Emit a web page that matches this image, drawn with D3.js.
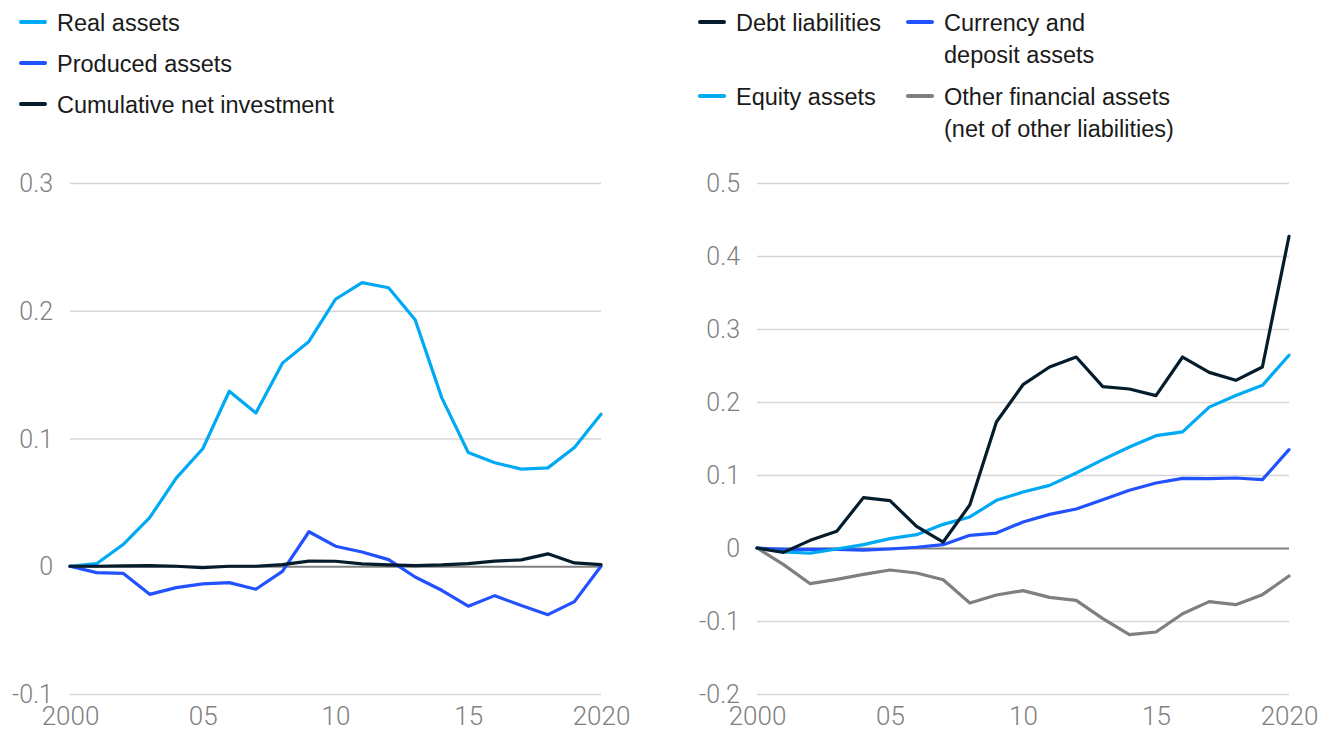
<!DOCTYPE html>
<html>
<head>
<meta charset="utf-8">
<script src="https://cdn.jsdelivr.net/npm/d3@7"></script>
<style>
  html, body { margin: 0; padding: 0; background: #ffffff; }
  svg { display: block; }
  .tick text { font-family: Roboto, "Liberation Sans", sans-serif; font-weight: 300; fill: #808080; }
  .legend text { font-family: "Liberation Sans", Arial, sans-serif; font-size: 23.5px; fill: #1a1a1a; }
</style>
</head>
<body>
<svg id="chart" width="1319" height="731"></svg>
<script>
// ---------- DATA ----------
const years = [2000,2001,2002,2003,2004,2005,2006,2007,2008,2009,2010,2011,2012,2013,2014,2015,2016,2017,2018,2019,2020];

// Left panel
const realAssets = [0,0.002,0.017,0.038,0.069,0.092,0.137,0.120,0.159,0.176,0.209,0.222,0.218,0.193,0.132,0.089,0.081,0.076,0.077,0.093,0.119];
const producedAssets = [0,-0.005,-0.0055,-0.022,-0.0167,-0.0138,-0.0128,-0.018,-0.004,0.027,0.0157,0.0112,0.0052,-0.0084,-0.0188,-0.0313,-0.023,-0.0308,-0.0379,-0.0277,0];
const cumulativeNetInvestment = [0,0,0.0003,0.0005,0,-0.001,0,0,0.0013,0.004,0.0039,0.0018,0.001,0.0005,0.001,0.002,0.004,0.005,0.0097,0.0026,0.0013];

// Right panel
const debtLiabilities = [0,-0.006,0.0105,0.0228,0.069,0.0648,0.0297,0.0082,0.059,0.1726,0.2237,0.248,0.2616,0.221,0.2178,0.2087,0.2616,0.2406,0.2297,0.248,0.427];
const equityAssets = [0,-0.0055,-0.007,-0.0014,0.0046,0.0128,0.0183,0.0324,0.0425,0.0653,0.0767,0.0858,0.1027,0.121,0.1384,0.1539,0.159,0.193,0.209,0.2228,0.264];
const currencyDepositAssets = [0,-0.002,-0.002,-0.002,-0.003,-0.0014,0.001,0.0046,0.0174,0.0205,0.0356,0.0461,0.0534,0.0662,0.079,0.089,0.0954,0.095,0.0959,0.0936,0.1347];
const otherFinancialAssets = [0,-0.0228,-0.0489,-0.0429,-0.0361,-0.0301,-0.0342,-0.0434,-0.0753,-0.0644,-0.0584,-0.0676,-0.0717,-0.0968,-0.1187,-0.1151,-0.09,-0.0735,-0.0776,-0.0639,-0.0384];

// Tick labels
const xTickValues = [2000,2005,2010,2015,2020];
const xTickLabels = ["2000","05","10","15","2020"];
const leftYTicks = [-0.1,0,0.1,0.2,0.3];
const leftYLabels = ["-0.1","0","0.1","0.2","0.3"];
const rightYTicks = [-0.2,-0.1,0,0.1,0.2,0.3,0.4,0.5];
const rightYLabels = ["-0.2","-0.1","0","0.1","0.2","0.3","0.4","0.5"];

// Legend labels
const leftLegend = ["Real assets","Produced assets","Cumulative net investment"];
const rightLegend = [["Debt liabilities"],["Currency and","deposit assets"],["Equity assets"],["Other financial assets","(net of other liabilities)"]];

// ---------- STYLE ----------
const C_LIGHT = "#00A9F4", C_BLUE = "#2251FF", C_DARK = "#051C2C", C_GREY = "#7F7F7F";

const svg = d3.select("#chart");

function panel(cfg) {
  const x = d3.scaleLinear().domain([2000, 2020]).range([cfg.x0, cfg.x1]);
  const y = d3.scaleLinear().domain(cfg.yDomain).range([cfg.yBottom, cfg.yTop]);
  const g = svg.append("g");

  // y gridlines + labels
  const yAxis = d3.axisLeft(y)
    .tickValues(cfg.yTicks)
    .tickFormat((d, i) => cfg.yLabels[i])
    .tickSize(-(cfg.x1 - cfg.x0))
    .tickPadding(17);
  const ya = g.append("g").attr("transform", `translate(${cfg.x0},0)`).call(yAxis);
  ya.select(".domain").remove();
  ya.selectAll(".tick line")
    .attr("stroke", d => d === 0 ? "#808080" : "#d6d6d6")
    .attr("stroke-width", d => d === 0 ? 2 : 1.5);
  ya.selectAll(".tick text").attr("font-size", 25).attr("dy", "0.34em");

  // x labels
  const xAxis = d3.axisBottom(x)
    .tickValues(xTickValues)
    .tickFormat((d, i) => xTickLabels[i])
    .tickSize(0)
    .tickPadding(0);
  const xa = g.append("g").attr("transform", `translate(0,${cfg.yBottom})`).call(xAxis);
  xa.select(".domain").remove();
  xa.selectAll(".tick text").attr("font-size", 26).attr("dy", null).attr("y", 31);

  // lines
  const line = d3.line().x((d, i) => x(years[i])).y(d => y(d));
  cfg.series.forEach(s => {
    g.append("path")
      .datum(s.values)
      .attr("fill", "none")
      .attr("stroke", s.color)
      .attr("stroke-width", 3.2)
      .attr("stroke-linejoin", "round")
      .attr("stroke-linecap", "round")
      .attr("d", line);
  });
}

panel({
  x0: 70, x1: 601, yTop: 183, yBottom: 694, yDomain: [-0.1, 0.3],
  yTicks: leftYTicks, yLabels: leftYLabels,
  series: [
    { values: realAssets, color: C_LIGHT },
    { values: producedAssets, color: C_BLUE },
    { values: cumulativeNetInvestment, color: C_DARK }
  ]
});

panel({
  x0: 757, x1: 1289, yTop: 183, yBottom: 694, yDomain: [-0.2, 0.5],
  yTicks: rightYTicks, yLabels: rightYLabels,
  series: [
    { values: otherFinancialAssets, color: C_GREY },
    { values: currencyDepositAssets, color: C_BLUE },
    { values: equityAssets, color: C_LIGHT },
    { values: debtLiabilities, color: C_DARK }
  ]
});

// ---------- LEGENDS ----------
function legendItem(x, yc, color, lines) {
  const g = svg.append("g").attr("class", "legend");
  g.append("line")
    .attr("x1", x + 2).attr("x2", x + 26)
    .attr("y1", yc).attr("y2", yc)
    .attr("stroke", color).attr("stroke-width", 4).attr("stroke-linecap", "round");
  lines.forEach((t, i) => {
    g.append("text").attr("x", x + 38).attr("y", yc + 9 + i * 32).text(t);
  });
}
const leftColors = [C_LIGHT, C_BLUE, C_DARK];
leftLegend.forEach((t, i) => legendItem(19, 22 + i * 41, leftColors[i], [t]));

const rightColors = [C_DARK, C_BLUE, C_LIGHT, C_GREY];
const rightPos = [[698, 22], [906, 22], [698, 96], [906, 96]];
rightLegend.forEach((t, i) => legendItem(rightPos[i][0], rightPos[i][1], rightColors[i], t));
</script>
</body>
</html>
